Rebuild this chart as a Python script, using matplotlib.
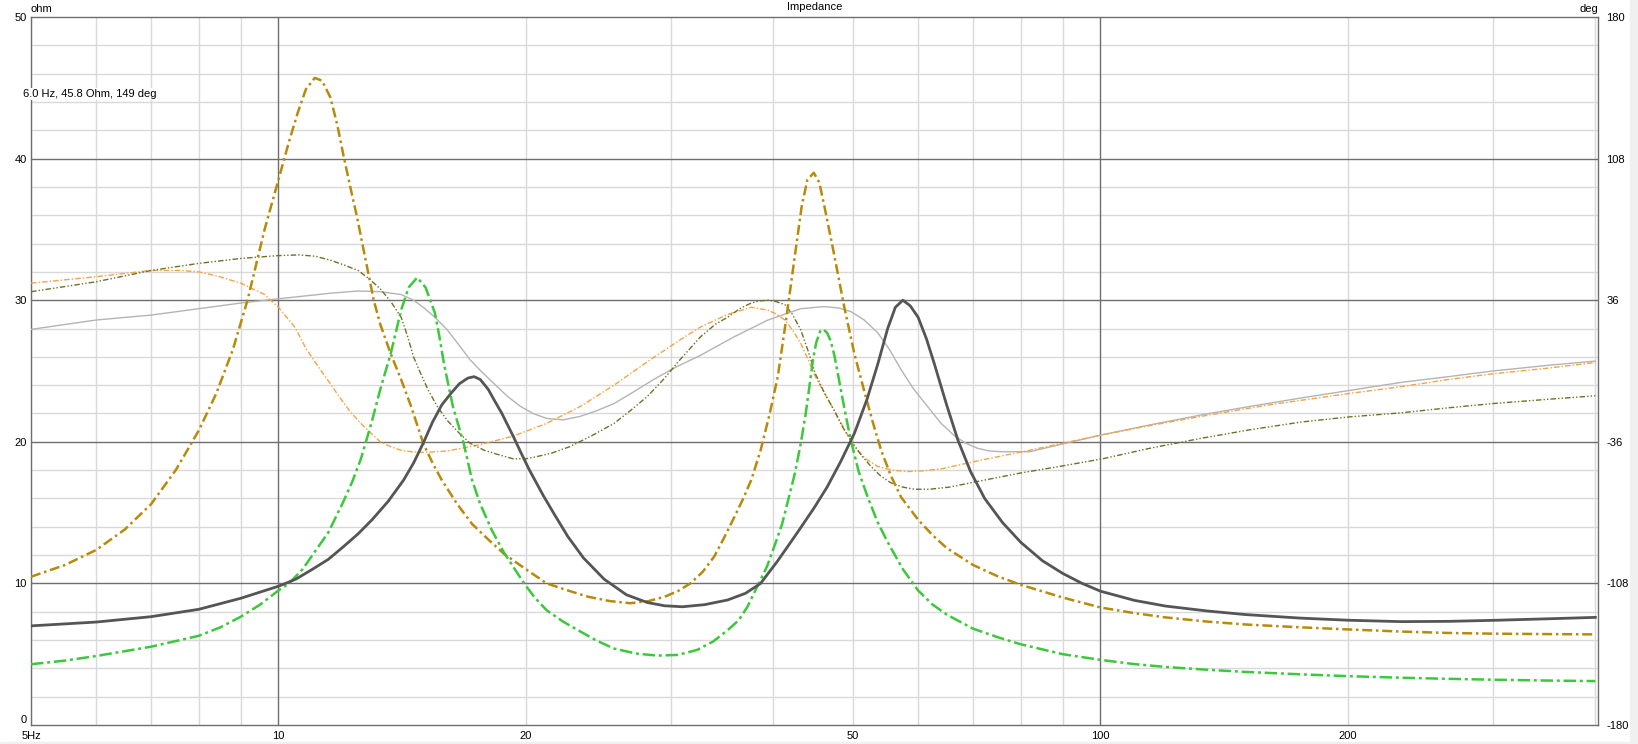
import matplotlib
matplotlib.use("Agg")
import matplotlib.pyplot as plt
from matplotlib.patches import Rectangle

# ---- data (frequency in Hz, impedance in ohm) ----
dark_f = [5, 6, 7, 8, 9, 10, 10.5, 11, 11.5, 12, 12.5, 13, 13.6, 14.2, 14.6, 15.0, 15.4,
          15.8, 16.2, 16.6, 17.0, 17.3, 17.6, 18.0, 18.3, 18.7, 19.3, 19.7, 20.2, 21.0,
          21.7, 22.5, 23.5, 24.9, 26.5, 28.1, 29.5, 31.0, 33, 35.2, 37, 38.6, 40.5, 42.8,
          44.8, 46.5, 48.3, 50.2, 52, 53.6, 55.1, 56.3, 57.5, 58.7, 60.0, 61.4, 62.8, 65,
          67.1, 69.5, 72.3, 76, 80, 85, 90, 95, 100, 110, 120, 135, 150, 175, 200, 232,
          265, 300, 350, 400]
dark_z = [7.0, 7.27, 7.65, 8.17, 8.95, 9.8, 10.3, 11.0, 11.7, 12.6, 13.5, 14.5, 15.8, 17.3,
          18.5, 19.9, 21.4, 22.6, 23.4, 24.1, 24.5, 24.6, 24.4, 23.7, 22.95, 22.0, 20.4,
          19.3, 18.0, 16.2, 14.8, 13.3, 11.8, 10.3, 9.2, 8.65, 8.42, 8.35, 8.5, 8.83, 9.3,
          10.0, 11.6, 13.6, 15.3, 16.8, 18.6, 20.6, 23.0, 25.5, 28.0, 29.5, 30.0, 29.6,
          28.8, 27.3, 25.5, 22.6, 20.1, 17.9, 16.0, 14.3, 12.9, 11.6, 10.7, 10.0, 9.45,
          8.8, 8.4, 8.05, 7.8, 7.55, 7.4, 7.3, 7.32, 7.39, 7.5, 7.6]

green_f = [5, 5.5, 6, 7, 8, 8.5, 9, 9.5, 10, 10.3, 10.7, 11, 11.5, 12, 12.3, 12.6, 13,
           13.3, 13.7, 14.1, 14.4, 14.75, 15.1, 15.5, 15.7, 15.9, 16.3, 16.8, 17.2, 17.6,
           18.2, 18.8, 19.9, 20.5, 21.2, 22.2, 23.3, 24.4, 25.6, 27.2, 28.9, 30.6, 32.3,
           33.8, 35.2, 36.3, 37.2, 38.4, 39.3, 40.1, 41, 41.7, 42.5, 43.2, 43.8, 44.3,
           44.7, 45.1, 45.6, 46.0, 46.5, 47.0, 47.5, 48.0, 48.5, 49.1, 49.7, 50.8, 52.1,
           53.5, 55, 57.5, 60, 62.5, 65, 70, 75, 80, 90, 100, 110, 120, 135, 150, 175,
           200, 232, 265, 300, 350, 400]
green_z = [4.29, 4.55, 4.87, 5.53, 6.3, 6.9, 7.65, 8.5, 9.5, 10.0, 11.0, 12.0, 13.6, 15.8,
           17.2, 18.8, 21.5, 23.7, 26.25, 29.3, 30.9, 31.6, 30.9, 29.1, 27.4, 25.5, 22.5,
           19.9, 17.3, 15.6, 13.7, 12.2, 10.0, 9.0, 8.1, 7.3, 6.6, 5.95, 5.4, 5.05, 4.9,
           4.95, 5.3, 5.9, 6.7, 7.4, 8.35, 10.0, 11.2, 12.6, 14.2, 15.9, 17.8, 19.9, 22.0,
           24.1, 25.8, 27.0, 27.8, 27.95, 27.7, 27.1, 26.0, 24.6, 23.2, 21.6, 20.1, 17.9,
           16.1, 14.4, 13.0, 11.0, 9.5, 8.5, 7.8, 6.8, 6.2, 5.7, 5.0, 4.6, 4.3, 4.1, 3.9,
           3.75, 3.58, 3.45, 3.34, 3.26, 3.2, 3.14, 3.1]

gold_f = [5, 5.5, 6, 6.5, 7, 7.5, 8, 8.4, 8.8, 9.17, 9.62, 10.0, 10.3, 10.55, 10.8, 11.07,
          11.3, 11.57, 11.8, 12.0, 12.25, 12.46, 12.75, 13.06, 13.3, 13.7, 14.1, 14.5,
          15.0, 15.4, 15.8, 16.5, 17.2, 18, 18.8, 20, 21.2, 22.5, 23.8, 25.3, 26.8, 28.2,
          29.5, 30.6, 31.7, 32.8, 33.9, 34.9, 35.8, 36.7, 37.6, 38.6, 39.6, 40.5, 41.5,
          42.5, 43.3, 44.0, 44.8, 45.5, 46.2, 47.4, 48.8, 50.2, 51.7, 52.9, 54.1, 55.6,
          57.2, 60, 62.5, 65, 70, 75, 80, 90, 100, 110, 120, 135, 150, 175, 200, 232,
          265, 300, 350, 400]
gold_z = [10.47, 11.3, 12.36, 13.8, 15.6, 18.0, 20.8, 23.4, 26.5, 30.0, 35.0, 38.5, 41.2,
          43.2, 44.9, 45.7, 45.5, 44.3, 42.3, 40.2, 37.8, 35.9, 33.0, 30.0, 28.3, 26.2,
          24.4, 22.5, 19.9, 18.5, 17.3, 15.6, 14.2, 13.1, 12.1, 11.0, 10.0, 9.5, 9.06,
          8.75, 8.6, 8.75, 9.06, 9.45, 10.0, 10.8, 11.9, 13.3, 14.6, 15.9, 17.3, 19.4,
          22.0, 24.6, 28.8, 33.2, 36.6, 38.5, 39.0, 38.3, 36.5, 33.3, 29.5, 26.2, 23.4,
          21.3, 19.4, 17.6, 16.1, 14.5, 13.4, 12.5, 11.3, 10.5, 9.9, 9.0, 8.3, 7.9, 7.6,
          7.3, 7.1, 6.9, 6.75, 6.6, 6.5, 6.45, 6.42, 6.4]

gray_f = [5, 6, 7, 8, 9, 10, 11.6, 12.5, 13.3, 14.1, 14.6, 15.0, 15.5, 16.05, 16.6, 17.1,
          17.7, 18.3, 19.0, 19.7, 20.4, 21.2, 22.2, 23.3, 24.4, 25.6, 27, 28.6, 30.5,
          32.6, 35.8, 39.4, 43.2, 46.1, 48, 49.7, 51.6, 53.6, 55.4, 57.2, 59.3, 61.6, 64,
          66.5, 68.6, 70.8, 73.3, 75.8, 82, 90, 100.6, 115, 132.7, 152, 175.7, 202, 232.5,
          265, 300, 350, 400]
gray_z = [27.94, 28.6, 28.95, 29.4, 29.8, 30.1, 30.5, 30.65, 30.6, 30.4, 30.0, 29.5, 28.8,
          27.9, 26.8, 25.8, 24.9, 24.1, 23.2, 22.5, 22.0, 21.65, 21.55, 21.8, 22.2, 22.7,
          23.5, 24.4, 25.3, 26.1, 27.4, 28.6, 29.4, 29.55, 29.45, 29.2, 28.6, 27.7, 26.5,
          25.1, 23.7, 22.5, 21.3, 20.4, 19.9, 19.55, 19.35, 19.3, 19.3, 19.85, 20.5, 21.2,
          21.9, 22.5, 23.1, 23.65, 24.2, 24.6, 25.0, 25.4, 25.7]

orange_f = [5, 6, 7, 7.6, 8.0, 8.44, 9.0, 9.62, 10.0, 10.47, 10.8, 11.15, 11.5, 11.85,
            12.2, 12.5, 12.8, 13.3, 13.7, 14.1, 14.5, 15.0, 16.05, 17.6, 19.3, 21.2, 23.3,
            25.6, 28.1, 30.8, 32.6, 35.2, 37.6, 39.4, 40.4, 41.3, 42.2, 43.2, 44.1, 45.0,
            46.2, 47.4, 48.8, 50.2, 51.8, 53.6, 55.8, 58.2, 61, 64.2, 70.2, 75.8, 82, 90,
            100.6, 115, 132.7, 160, 200, 232.5, 265, 300, 350, 400]
orange_z = [31.2, 31.66, 32.1, 32.1, 32.0, 31.7, 31.2, 30.4, 29.5, 28.1, 26.6, 25.4, 24.3,
            23.2, 22.2, 21.5, 20.9, 20.0, 19.65, 19.4, 19.3, 19.25, 19.35, 19.8, 20.4, 21.3,
            22.5, 24.0, 25.65, 27.2, 28.1, 29.0, 29.5, 29.3, 29.0, 28.6, 27.9, 26.95, 25.8,
            24.6, 23.4, 22.25, 20.9, 19.65, 18.8, 18.25, 18.0, 17.9, 17.95, 18.1, 18.6,
            19.0, 19.4, 19.9, 20.5, 21.15, 21.8, 22.6, 23.4, 23.9, 24.4, 24.8, 25.2, 25.6]

olive_f = [5, 6, 7, 8, 9, 10, 10.6, 11.1, 11.6, 12.0, 12.5, 12.9, 13.3, 13.7, 14.1, 14.35,
           14.6, 14.9, 15.2, 15.6, 16.05, 16.6, 17.1, 17.8, 18.5, 19.3, 20.0, 20.6, 21.5,
           22.6, 24, 25.6, 26.8, 28.1, 29.4, 30.8, 32.6, 34, 35.2, 36.4, 37.6, 38.5, 39.4,
           40.3, 41.3, 42.2, 43.2, 44.1, 45.0, 46.2, 47.4, 48.5, 49.7, 51.1, 52.6, 54,
           55.6, 57.5, 59.4, 62, 65.5, 72.3, 80, 90, 100.6, 115, 132.7, 152, 175.7, 200,
           232.5, 265, 300, 350, 400]
olive_z = [30.6, 31.3, 32.1, 32.6, 32.95, 33.15, 33.2, 33.1, 32.8, 32.5, 32.1, 31.5, 30.8,
           29.9, 28.8, 27.5, 26.0, 24.8, 23.7, 22.5, 21.5, 20.6, 19.9, 19.4, 19.1, 18.8,
           18.8, 18.95, 19.2, 19.65, 20.4, 21.3, 22.2, 23.2, 24.4, 25.8, 27.4, 28.3, 28.8,
           29.4, 29.8, 29.95, 30.0, 29.9, 29.7, 29.0, 27.9, 26.4, 24.8, 23.4, 22.25, 21.1,
           20.1, 19.1, 18.25, 17.6, 17.1, 16.8, 16.65, 16.65, 16.8, 17.3, 17.8, 18.3, 18.8,
           19.55, 20.25, 20.85, 21.4, 21.75, 22.05, 22.4, 22.7, 23.0, 23.25]

x_ticks = [5, 10, 20, 50, 100, 200]
x_labels = ["5Hz", "10", "20", "50", "100", "200"]
y_ticks = [0, 10, 20, 30, 40, 50]
deg_ticks = [-180, -108, -36, 36, 108, 180]
cursor_text = "6.0 Hz, 45.8 Ohm, 149 deg"

plt.rcParams["font.family"] = ["Liberation Sans", "DejaVu Sans"]
plt.rcParams["axes.unicode_minus"] = False
FS = 8

fig = plt.figure(figsize=(16.38, 7.44), dpi=100)
fig.patches.append(Rectangle((1630 / 1638, 0), 8 / 1638, 1, transform=fig.transFigure,
                             color="#f0f0f0", zorder=0))
fig.patches.append(Rectangle((0, 0), 1, 2 / 744, transform=fig.transFigure,
                             color="#f0f0f0", zorder=0))
ax = fig.add_axes([31 / 1638, 1 - 725 / 744, 1567 / 1638, 708 / 744])
ax.set_xscale("log")
ax.set_xlim(5, 403)
ax.set_ylim(0, 50)

# grid: light every 2 ohm / every Hz step, dark at 10 ohm / decades
minor_x = [f * d for d in (1, 10, 100) for f in range(5, 10)] + \
          [f * d for d in (10, 100) for f in range(1, 10)] + [200, 300]
for f in sorted(set(minor_x)):
    if f in (10, 100):
        continue
    ax.axvline(f, color="#d9d9d9", lw=1, zorder=1)
for y in range(2, 50, 2):
    if y % 10:
        ax.axhline(y, color="#d9d9d9", lw=1, zorder=1)
for f in (10, 100):
    ax.axvline(f, color="#6e6e6e", lw=1, zorder=1)
for y in (10, 20, 30, 40):
    ax.axhline(y, color="#6e6e6e", lw=1, zorder=1)

ax.plot(gray_f, gray_z, color="#b4b4b4", lw=1.0, zorder=3)
ax.plot(orange_f, orange_z, color="#f4a444", lw=1.0, ls=(0, (4, 1.5, 1, 1.5)), zorder=3)
ax.plot(olive_f, olive_z, color="#707028", lw=1.0, ls=(0, (4, 1.5, 1, 1.5, 1, 1.5)), zorder=3)
ax.plot(gold_f, gold_z, color="#b88a0a", lw=1.8, ls=(0, (4, 1.5, 1, 1.5)), zorder=4)
ax.plot(green_f, green_z, color="#3cc83c", lw=1.8, ls=(0, (5, 1.5, 1.2, 1.5)), zorder=4)
ax.plot(dark_f, dark_z, color="#555555", lw=2.0, zorder=5)

ax.set_xticks(x_ticks)
ax.set_xticklabels(x_labels)
ax.xaxis.set_minor_locator(matplotlib.ticker.NullLocator())
ax.set_yticks(y_ticks)
ax.tick_params(length=0, labelsize=FS, pad=3)
ax.tick_params(axis="x", pad=4)
ax.get_yticklabels()[0].set_va("bottom")
for s in ax.spines.values():
    s.set_color("#6e6e6e")
    s.set_linewidth(1)

ax2 = ax.twinx()
ax2.set_ylim(-180, 180)
ax2.set_yticks(deg_ticks)
ax2.tick_params(length=0, labelsize=FS, pad=6)
for s in ax2.spines.values():
    s.set_visible(False)

ax.text(0, 1.004, "ohm", transform=ax.transAxes, fontsize=FS, ha="left", va="bottom")
ax.text(1, 1.004, "deg", transform=ax.transAxes, fontsize=FS, ha="right", va="bottom")
ax.text(0.5, 1.007, "Impedance", transform=ax.transAxes, fontsize=FS, ha="center", va="bottom")
fig.text(23 / 1638, 1 - 94 / 744, cursor_text, fontsize=FS, ha="left", va="center",
         bbox=dict(facecolor="white", edgecolor="none", pad=0.5), zorder=10)

fig.savefig("out.png", dpi=100)
